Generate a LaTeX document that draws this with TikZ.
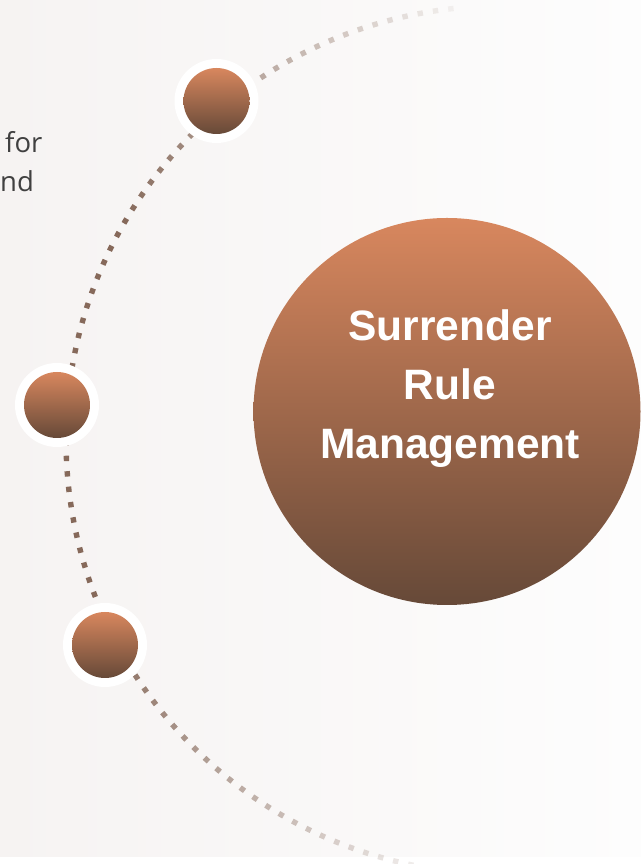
\documentclass[tikz,border=0pt]{standalone}
\usepackage{fontspec}
\setmainfont{Liberation Sans}
\newfontfamily\labelfont{Open Sans}
\definecolor{bgleft}{HTML}{F6F3F2}
\definecolor{bgright}{HTML}{FDFDFD}
\definecolor{ctop}{HTML}{D8875E}
\definecolor{cbot}{HTML}{664938}
\definecolor{dotc}{HTML}{86695A}
\definecolor{txtgrey}{HTML}{404040}
\tikzset{
  ring/.style={circle, fill=white, minimum size=84pt, inner sep=0pt},
  ball/.style={circle, top color=ctop, bottom color=cbot, minimum size=66pt, inner sep=0pt},
  bigball/.style={circle, top color=ctop, bottom color=cbot, minimum size=387pt, inner sep=0pt},
  sidetext/.style={font=\labelfont\fontsize{27.5}{39}\selectfont, text=txtgrey, inner sep=0pt, anchor=base west},
}
\begin{document}
\begin{tikzpicture}[x=1pt,y=1pt]
\useasboundingbox (0,0) rectangle (641,864);
% background
\fill[white] (0,0) rectangle (641,864);
\shade[left color=bgleft, right color=bgright] (0,7) rectangle (641,864);
% side text fragments
\node[sidetext] (t1) at (5,711) {for};
\node[sidetext] (t2) at (0,672) {nd};
% dotted arc
\coordinate (arcC) at (500,424);
\foreach \i in {0,...,80}{
  \pgfmathsetmacro\a{96.5+\i*2.046}
  \pgfmathsetmacro\op{max(0.05,min(1,min((\a-92)/58,(266-\a)/62)))}
  \fill[dotc, fill opacity=\op, shift={(arcC)}, rotate=\a] (431.3,-2.7) rectangle (436.7,2.7);
}
% small circles
\node[ring] (r1) at (216.5,763) {};
\node[ball] (b1) at (r1) {};
\node[ring] (r2) at (57,459) {};
\node[ball] (b2) at (r2) {};
\node[ring] (r3) at (105,219) {};
\node[ball] (b3) at (r3) {};
% big circle
\node[bigball] (big) at (447,452.5) {};
\node[font=\bfseries\fontsize{42.5}{59}\selectfont, text=white, align=center, inner sep=0pt] (title) at (450,475.5) {Surrender\\Rule\\Management};
\end{tikzpicture}
\end{document}
